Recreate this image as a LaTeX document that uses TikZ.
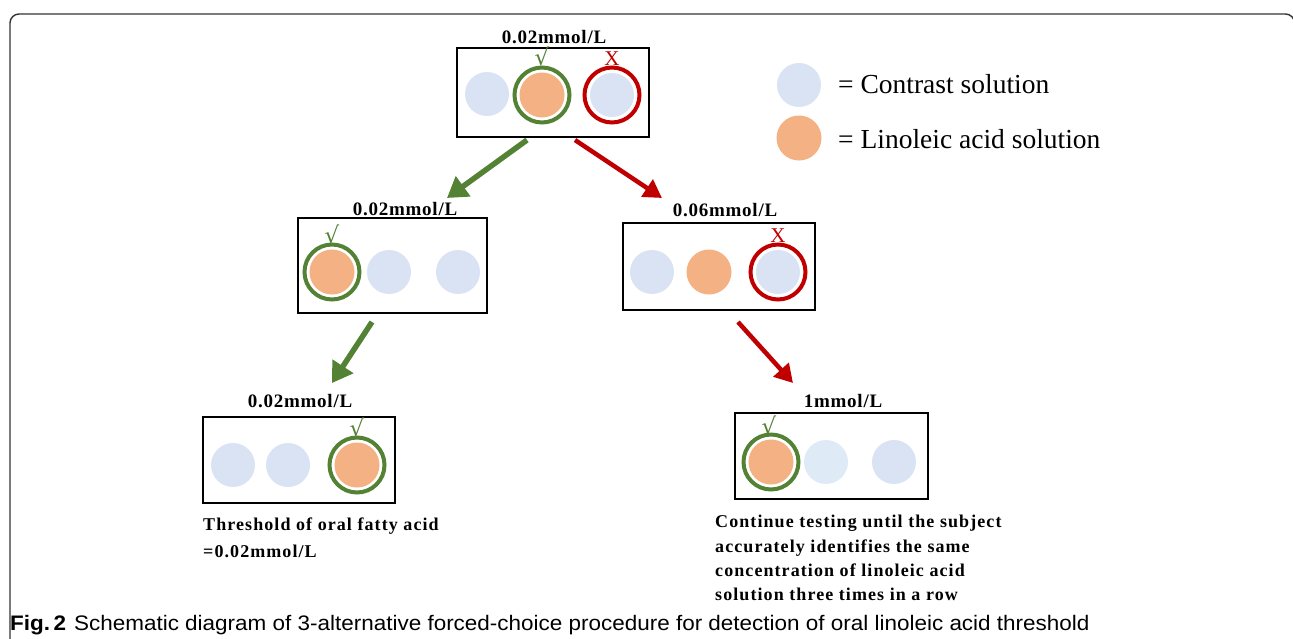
\documentclass[tikz,border=0pt]{standalone}
\usepackage{fontspec}
\setmainfont{Liberation Serif}
\newfontfamily\capsans[FakeStretch=1.07]{Liberation Sans}
\newfontfamily\concfont[LetterSpace=4]{Liberation Serif}
\newfontfamily\notefont[LetterSpace=6]{Liberation Serif}
\newfontfamily\dejavu{DejaVu Sans}
\usetikzlibrary{arrows.meta}
\definecolor{cblue}{HTML}{DAE3F3}
\definecolor{cbluel}{HTML}{DEEBF7}
\definecolor{corange}{HTML}{F4B183}
\definecolor{cgreen}{HTML}{548235}
\definecolor{cred}{HTML}{C00000}
\definecolor{cframe}{HTML}{333333}
\tikzset{
  sol/.style={circle, minimum size=44pt, inner sep=0pt, fill=cblue},
  soll/.style={sol, fill=cbluel},
  lin/.style={circle, minimum size=45pt, inner sep=0pt, fill=corange},
  gring/.style={circle, minimum size=55pt, inner sep=0pt, draw=cgreen, line width=4pt},
  rring/.style={circle, minimum size=55pt, inner sep=0pt, draw=cred, line width=4pt},
  boxx/.style={draw=black, line width=2.8pt, inner sep=0pt, fill=none},
  conc/.style={font=\concfont\fontsize{19}{22}\selectfont\bfseries, anchor=base, inner sep=0pt},
  note/.style={font=\notefont\fontsize{18}{24.5}\selectfont\bfseries, anchor=base west, inner sep=0pt},
  legt/.style={font=\fontsize{27.5}{30}\selectfont, anchor=base west, inner sep=0pt},
  chk/.style={font=\dejavu\fontsize{23}{23}\selectfont, text=cgreen, inner sep=0pt},
  crs/.style={font=\fontsize{21}{21}\selectfont, text=cred, inner sep=0pt},
  garr/.style={draw=cgreen, line width=5.5pt, -{Triangle[length=20pt,width=24pt]}},
  rarr/.style={draw=cred, line width=4.5pt, -{Triangle[length=18pt,width=20pt]}},
}
\begin{document}
\begin{tikzpicture}[x=1pt,y=-1pt]
\useasboundingbox (0,0) rectangle (1293,638);
% frame
\draw[cframe, line width=1.4pt, rounded corners=9pt] (10,640) -- (10,14) -- (1294.5,14) -- (1294.5,640);

% legend
\node[sol] (lg1) at (799,85) {};
\node[lin] (lg2) at (799,138) {};
\node[legt] (lt1) at (838,93) {= Contrast solution};
\node[legt] (lt2) at (838,148) {= Linoleic acid solution};

% top box
\node[boxx, minimum width=192pt, minimum height=89pt] (B0) at (553,92.5) {};
\node[conc] (L0) at (554,43) {0.02mmol/L};
\node[sol] (c01) at (487,94) {};
\node[lin] (c02) at (542,95) {};
\node[gring] (g02) at (542,95) {};
\node[sol] (c03) at (612,95) {};
\node[rring] (r03) at (612,95) {};
\node[chk] (k0) at (542,56) {√};
\node[crs] (x0) at (612,59) {X};

% middle left
\node[boxx, minimum width=189pt, minimum height=95pt] (B1) at (392.5,265.5) {};
\node[conc] (L1) at (405,215) {0.02mmol/L};
\node[lin] (c11) at (332,272) {};
\node[gring] (g11) at (332,272) {};
\node[sol] (c12) at (389,272) {};
\node[sol] (c13) at (458,272) {};
\node[chk] (k1) at (332,234) {√};

% middle right
\node[boxx, minimum width=192pt, minimum height=87pt] (B2) at (719,266.5) {};
\node[conc] (L2) at (725,216) {0.06mmol/L};
\node[sol] (c21) at (652,272) {};
\node[lin] (c22) at (709,272) {};
\node[sol] (c23) at (778,272) {};
\node[rring] (r23) at (778,272) {};
\node[crs] (x2) at (778,236) {X};

% bottom left
\node[boxx, minimum width=192pt, minimum height=86pt] (B3) at (299,460) {};
\node[conc] (L3) at (300,407) {0.02mmol/L};
\node[sol] (c31) at (233,465) {};
\node[sol] (c32) at (288,465) {};
\node[lin] (c33) at (357,465) {};
\node[gring] (g33) at (357,465) {};
\node[chk] (k3) at (357,427) {√};
\node[note] (t31) at (203,530) {Threshold of oral fatty acid};
\node[note] (t32) at (203,557) {=0.02mmol/L};

% bottom right
\node[boxx, minimum width=193pt, minimum height=86pt] (B4) at (831.5,456) {};
\node[conc] (L4) at (843,407) {1mmol/L};
\node[lin] (c41) at (771,462) {};
\node[gring] (g41) at (771,462) {};
\node[soll] (c42) at (826,462) {};
\node[sol] (c43) at (894,462) {};
\node[chk] (k4) at (769,425) {√};
\node[note] (t41) at (715,527) {Continue testing until the subject};
\node[note] (t42) at (715,552) {accurately identifies the same};
\node[note] (t43) at (715,576) {concentration of linoleic acid};
\node[note] (t44) at (715,600) {solution three times in a row};

% arrows
\coordinate (a1s) at (527,140);
\coordinate (a1e) at (447,198);
\coordinate (a2s) at (575,140);
\coordinate (a2e) at (662,198);
\coordinate (a3s) at (372,322);
\coordinate (a3e) at (332,383);
\coordinate (a4s) at (738,322);
\coordinate (a4e) at (793,383);
\draw[garr] (a1s) -- (a1e);
\draw[rarr] (a2s) -- (a2e);
\draw[garr] (a3s) -- (a3e);
\draw[rarr] (a4s) -- (a4e);

% caption
\node[anchor=base west, inner sep=0pt, font=\capsans\fontsize{21}{23}\selectfont] (cap) at (10,630)
  {\textbf{Fig.\,2}\hspace{8pt}Schematic diagram of 3-alternative forced-choice procedure for detection of oral linoleic acid threshold};
\end{tikzpicture}
\end{document}
